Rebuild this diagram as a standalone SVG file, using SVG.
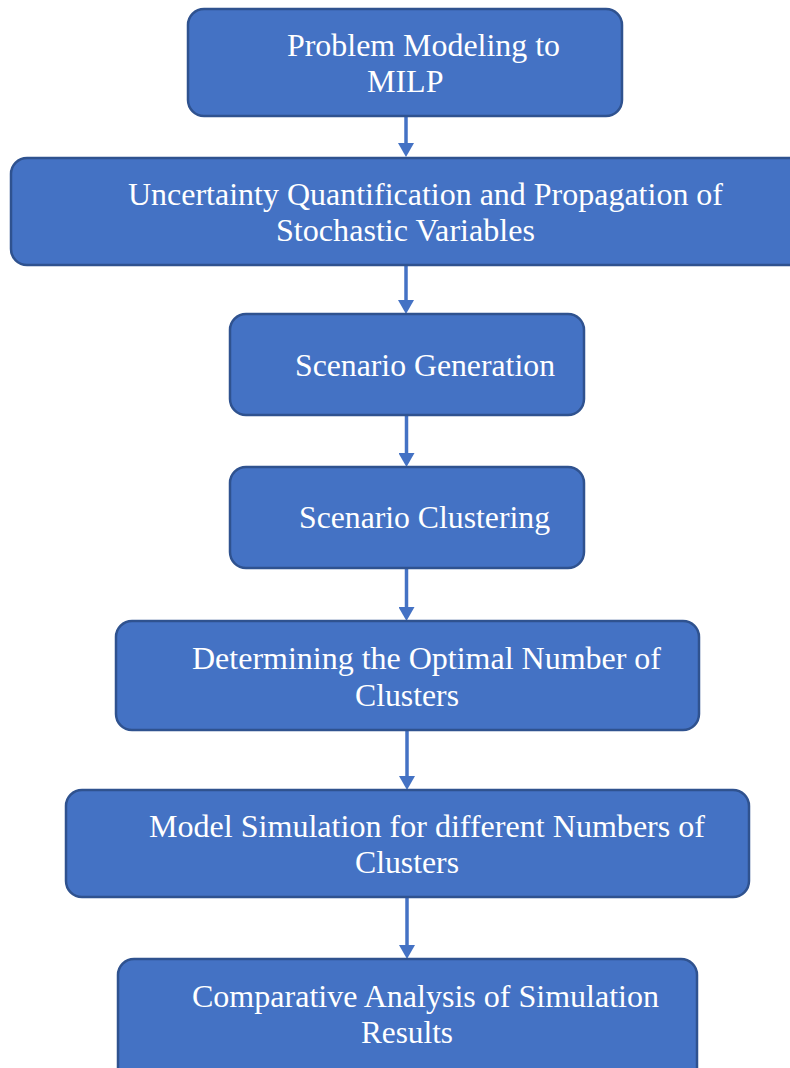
<svg xmlns="http://www.w3.org/2000/svg" width="790" height="1068" viewBox="0 0 790 1068">
<style>
.box{fill:#4472C4;stroke:#2F528F;stroke-width:2.5}
.t{font-family:"Liberation Serif","Times New Roman",serif;font-size:32px;fill:#FFFFFF}
.c{stroke:#4472C4;stroke-width:3.5;fill:none}
</style>
<defs>
<marker id="ah" markerUnits="userSpaceOnUse" markerWidth="14" markerHeight="16" viewBox="0 0 14 16" refX="6" refY="8" orient="auto">
<path d="M0,0 L14,8 L0,16 Z" fill="#4472C4"/>
</marker>
</defs>
<rect width="790" height="1068" fill="#FFFFFF"/>
<g id="connectors">
<path class="c" d="M406,117 V149" marker-end="url(#ah)"/>
<path class="c" d="M406,266 V306" marker-end="url(#ah)"/>
<path class="c" d="M406.5,416 V459" marker-end="url(#ah)"/>
<path class="c" d="M406.5,568 V613" marker-end="url(#ah)"/>
<path class="c" d="M407,730 V782" marker-end="url(#ah)"/>
<path class="c" d="M407,897 V951" marker-end="url(#ah)"/>
</g>
<g id="n1">
<rect class="box" x="188" y="9" width="434" height="107" rx="16"/>
<text class="t" x="287" y="56" textLength="273" lengthAdjust="spacingAndGlyphs">Problem Modeling to</text>
<text class="t" x="367" y="92">MILP</text>
</g>
<g id="n2">
<rect class="box" x="11" y="158" width="800" height="107" rx="16"/>
<text class="t" x="128" y="205" textLength="595" lengthAdjust="spacingAndGlyphs">Uncertainty Quantification and Propagation of</text>
<text class="t" x="276" y="241" textLength="259" lengthAdjust="spacingAndGlyphs">Stochastic Variables</text>
</g>
<g id="n3">
<rect class="box" x="230" y="314" width="354" height="101" rx="16"/>
<text class="t" x="295" y="376" textLength="260" lengthAdjust="spacingAndGlyphs">Scenario Generation</text>
</g>
<g id="n4">
<rect class="box" x="230" y="467" width="354" height="101" rx="16"/>
<text class="t" x="299" y="528" textLength="251" lengthAdjust="spacingAndGlyphs">Scenario Clustering</text>
</g>
<g id="n5">
<rect class="box" x="116" y="621" width="583" height="109" rx="16"/>
<text class="t" x="192" y="669" textLength="469" lengthAdjust="spacingAndGlyphs">Determining the Optimal Number of</text>
<text class="t" x="355" y="706" textLength="104" lengthAdjust="spacingAndGlyphs">Clusters</text>
</g>
<g id="n6">
<rect class="box" x="66" y="790" width="683" height="107" rx="16"/>
<text class="t" x="149" y="837" textLength="556" lengthAdjust="spacingAndGlyphs">Model Simulation for different Numbers of</text>
<text class="t" x="355" y="873" textLength="104" lengthAdjust="spacingAndGlyphs">Clusters</text>
</g>
<g id="n7">
<rect class="box" x="118" y="959" width="579" height="125" rx="16"/>
<text class="t" x="192" y="1007" textLength="467" lengthAdjust="spacingAndGlyphs">Comparative Analysis of Simulation</text>
<text class="t" x="361" y="1043" textLength="92" lengthAdjust="spacingAndGlyphs">Results</text>
</g>
</svg>
